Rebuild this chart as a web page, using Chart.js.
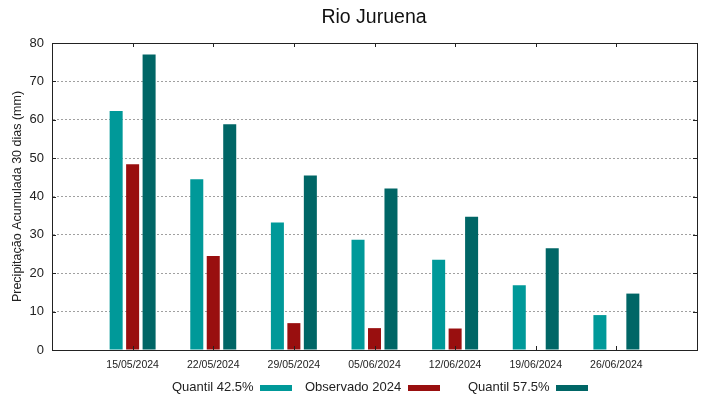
<!DOCTYPE html>
<html>
<head>
<meta charset="utf-8">
<script src="https://cdn.jsdelivr.net/npm/chart.js@4/dist/chart.umd.min.js"></script>
<style>
  html, body { margin: 0; padding: 0; background: #fff; }
  #wrap { position: relative; width: 719px; height: 399px; }
  canvas { position: absolute; left: 0; top: 0; }
  .ttl { position: absolute; top: 4px; left: 274px; width: 200px; text-align: center; font: 19.5px "Liberation Sans", Arial, sans-serif; color: #111; line-height: 24px; }
  .leg { position: absolute; top: 379px; font: 13px "Liberation Sans", Arial, sans-serif; color: #222; white-space: nowrap; line-height: 16px; }
  .sw { position: absolute; top: 385px; height: 6px; width: 32px; }
</style>
</head>
<body>
<div id="wrap">
  <canvas id="c" width="719" height="399"></canvas>
  <div class="ttl">Rio Juruena</div>
  <div class="leg" style="left:172px">Quantil 42.5%</div>
  <div class="sw" style="left:260px;background:#009999"></div>
  <div class="leg" style="left:305px">Observado 2024</div>
  <div class="sw" style="left:408px;background:#990f0f"></div>
  <div class="leg" style="left:468px">Quantil 57.5%</div>
  <div class="sw" style="left:556px;background:#006666"></div>
</div>
<script>
const categories = ['', '15/05/2024', '22/05/2024', '29/05/2024', '05/06/2024', '12/06/2024', '19/06/2024', '26/06/2024', ''];
const quantil425 = [null, 62.3, 44.5, 33.2, 28.7, 23.5, 16.9, 9.1, null];
const observado2024 = [null, 48.4, 24.5, 7.0, 5.7, 5.6, null, null, null];
const quantil575 = [null, 77.0, 58.8, 45.5, 42.1, 34.7, 26.5, 14.7, null];
const yTicks = [0, 10, 20, 30, 40, 50, 60, 70, 80];

const FONT = '"Liberation Sans", Arial, sans-serif';

const frame = {
  id: 'frame',
  afterDraw(chart) {
    const { ctx, chartArea: a, scales } = chart;
    ctx.save();
    ctx.strokeStyle = '#222';
    ctx.lineWidth = 1;
    ctx.strokeRect(Math.round(a.left) + 0.5, Math.round(a.top) + 0.5, Math.round(a.right - a.left), Math.round(a.bottom - a.top));
    ctx.beginPath();
    for (let i = 1; i < categories.length - 1; i++) {
      const x = Math.round(scales.x.getPixelForTick(i)) + 0.5;
      ctx.moveTo(x, a.top); ctx.lineTo(x, a.top + 4);
      ctx.moveTo(x, a.bottom); ctx.lineTo(x, a.bottom - 4);
    }
    yTicks.forEach(v => {
      const y = Math.round(scales.y.getPixelForValue(v)) + 0.5;
      ctx.moveTo(a.right, y); ctx.lineTo(a.right - 4, y);
      ctx.moveTo(a.left, y); ctx.lineTo(a.left + 4, y);
    });
    ctx.stroke();
    ctx.restore();
  }
};

new Chart(document.getElementById('c'), {
  type: 'bar',
  data: {
    labels: categories,
    datasets: [
      { label: 'Quantil 42.5%', data: quantil425, backgroundColor: '#009999' },
      { label: 'Observado 2024', data: observado2024, backgroundColor: '#990f0f' },
      { label: 'Quantil 57.5%', data: quantil575, backgroundColor: '#006666' }
    ]
  },
  options: {
    responsive: false,
    animation: false,
    devicePixelRatio: 1,
    categoryPercentage: 0.613,
    barPercentage: 0.79,
    layout: { padding: { left: 0, right: 22, top: 43, bottom: 25 } },
    plugins: {
      legend: { display: false },
      tooltip: { enabled: false },
      title: { display: false }
    },
    scales: {
      x: {
        offset: false,
        grid: { display: false, drawTicks: false },
        border: { display: true, color: '#222' },
        ticks: { color: '#222', font: { family: FONT, size: 10.5 }, padding: 9, maxRotation: 0, autoSkip: false },
        afterFit(s) { s.height = 24; }
      },
      y: {
        min: 0, max: 80,
        grid: { color: '#a0a0a0', drawTicks: false, lineWidth: 1 },
        border: { display: true, color: '#222', dash: [2, 2] },
        ticks: { stepSize: 10, color: '#222', font: { family: FONT, size: 13 }, padding: 8 },
        title: { display: true, text: 'Precipitação Acumulada 30 dias (mm)', color: '#222', font: { family: FONT, size: 12.5 }, padding: { top: 10, bottom: 0 } },
        afterFit(s) { s.width = 52; }
      }
    }
  },
  plugins: [frame]
});
</script>
</body>
</html>
